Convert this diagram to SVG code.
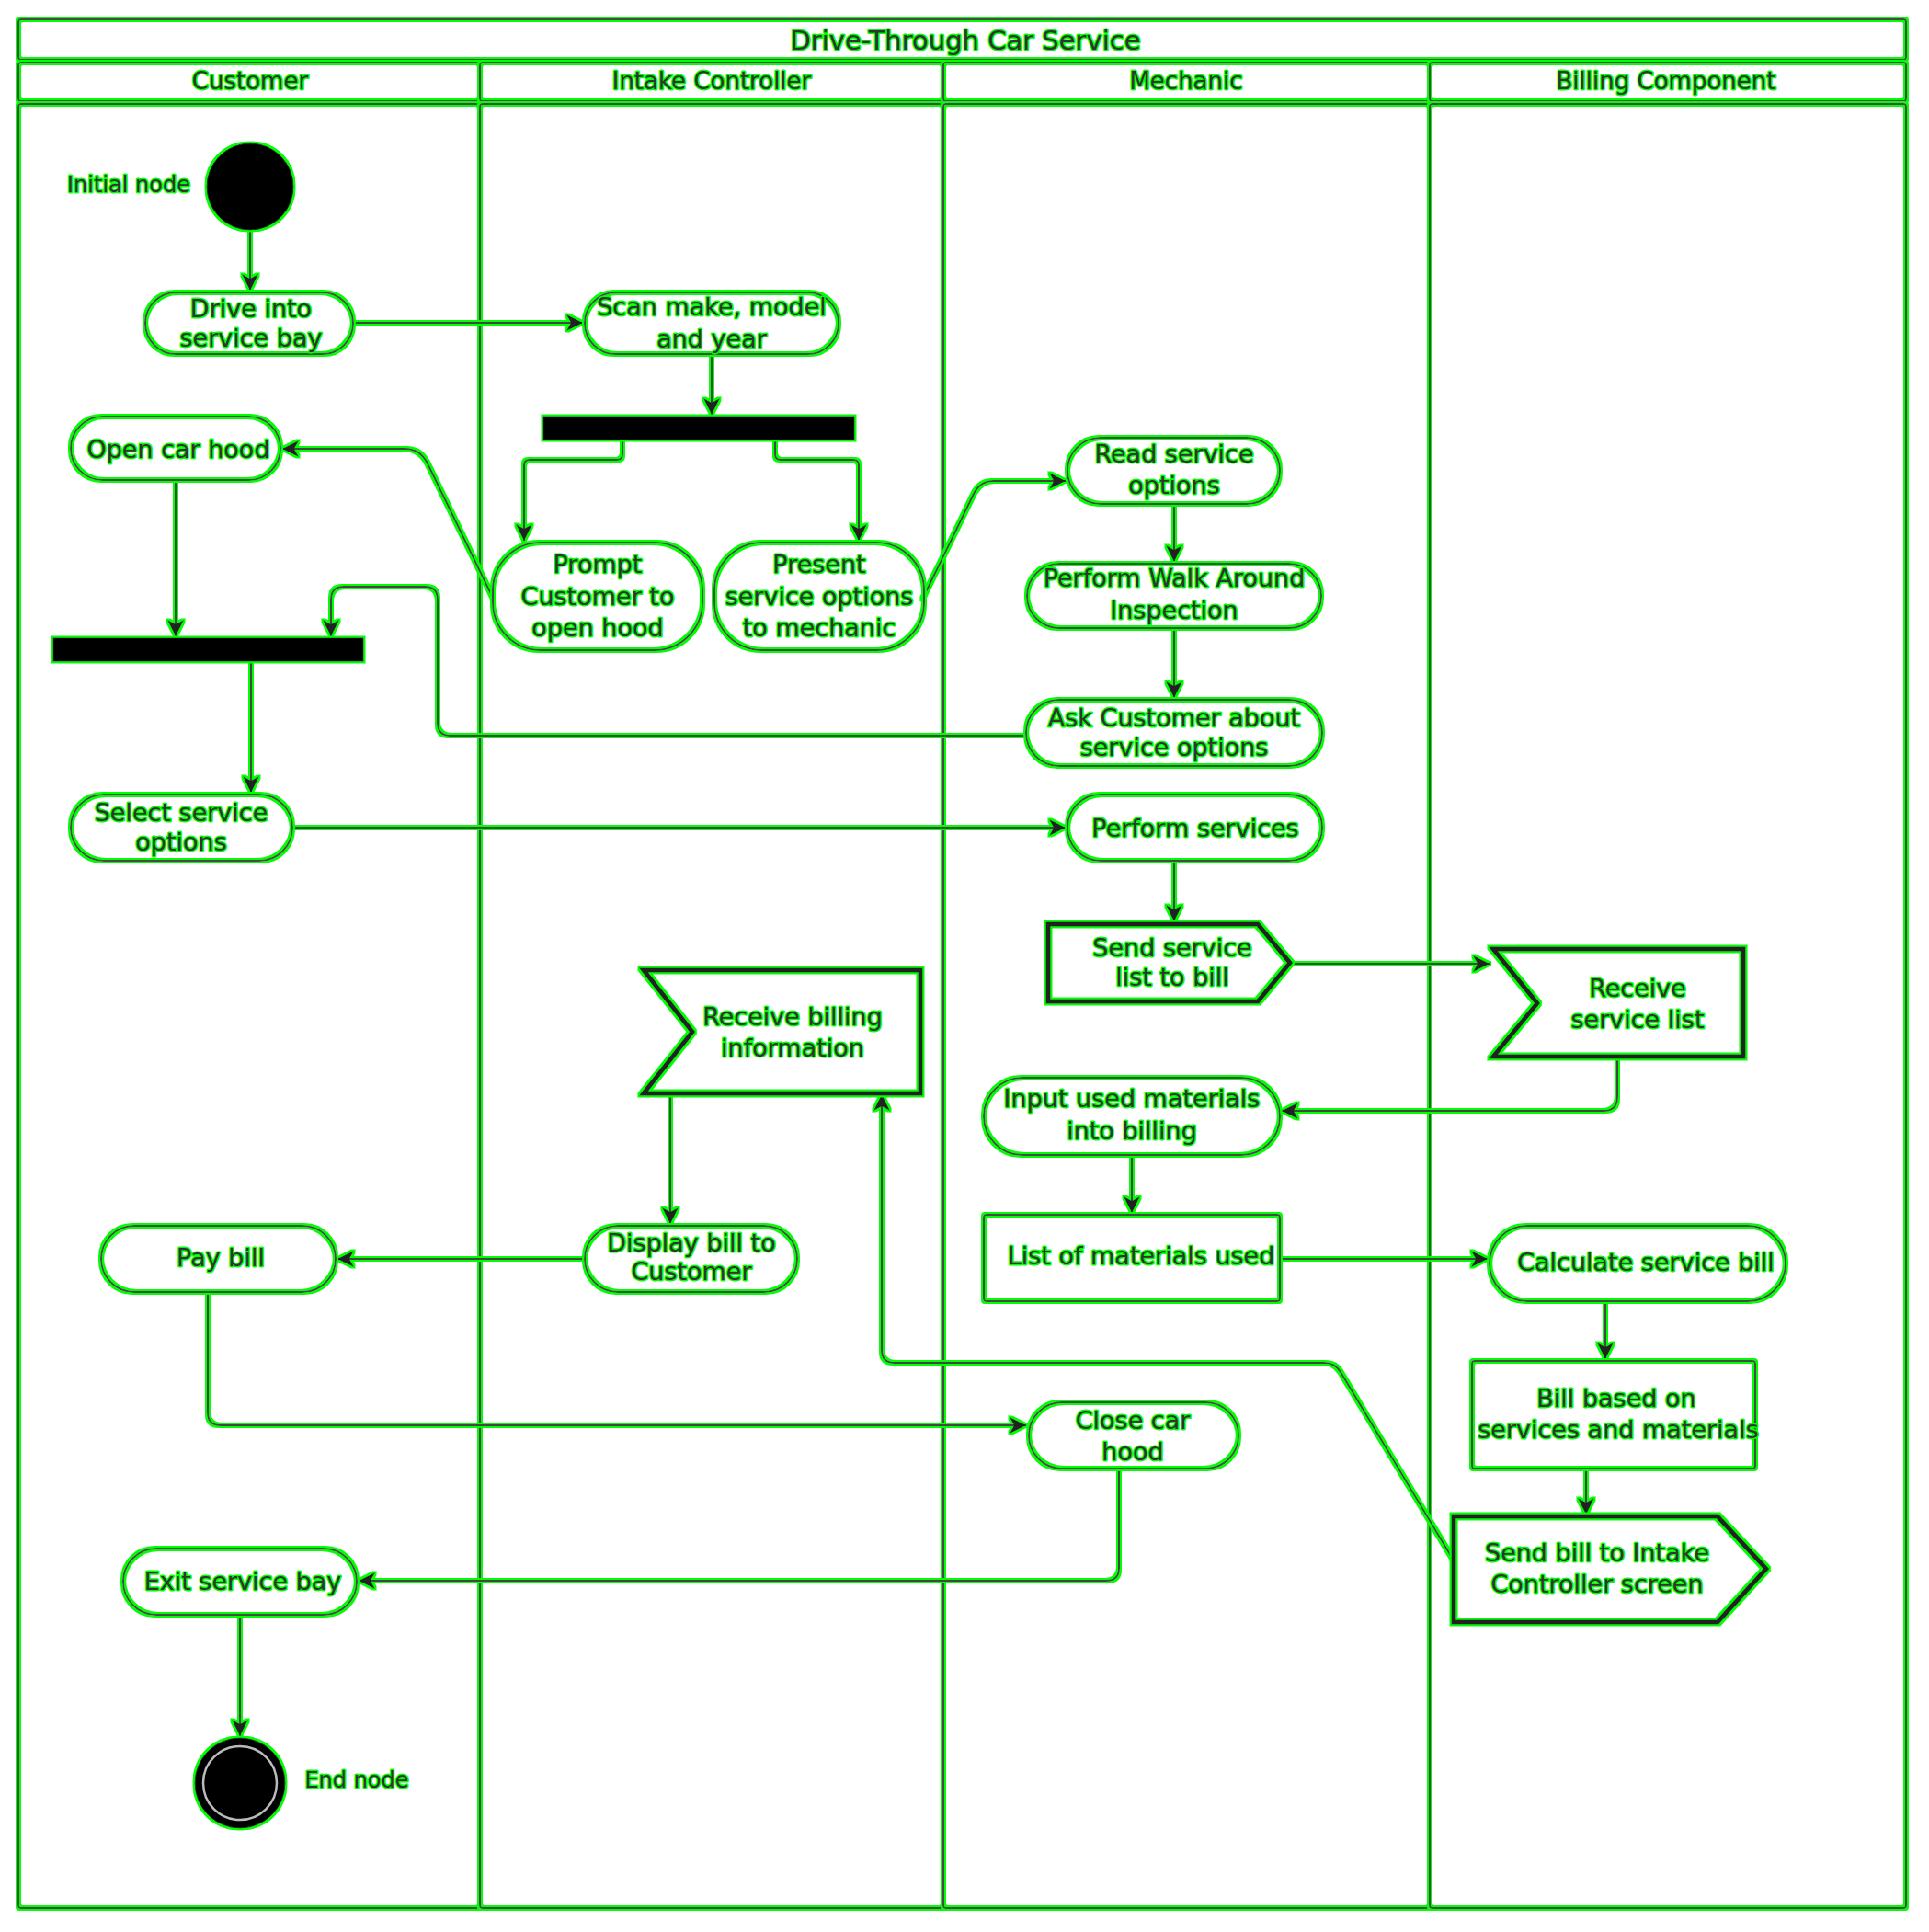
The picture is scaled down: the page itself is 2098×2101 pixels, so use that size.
<svg xmlns="http://www.w3.org/2000/svg" width="2098" height="2101" viewBox="0 0 2098 2101">
<style>
.fr{fill:none;stroke:#4a4a4a;stroke-width:2;filter:url(#glow)}
.nd{fill:none;stroke:#4a4a4a;stroke-width:2;filter:url(#glow)}
.sg{fill:none;stroke:#222;stroke-width:5;stroke-linejoin:miter;filter:url(#glow)}
.bar{fill:#000;stroke:#222;stroke-width:1;filter:url(#glow)}
.ci{fill:#000;stroke:#222;stroke-width:1;filter:url(#glow)}
.ln{fill:none;stroke:#444;stroke-width:2;marker-end:url(#ah);filter:url(#glow)}
text{font-family:"DejaVu Sans","Liberation Sans",sans-serif;fill:#333;text-anchor:middle;stroke:#00ff00;stroke-width:3;stroke-linejoin:round;paint-order:stroke}
.t{font-size:27px}
.h{font-size:26px}
.ti{font-size:29px}
.lb{font-size:24px}
</style>
<defs>
<filter id="glow" filterUnits="userSpaceOnUse" x="0" y="0" width="2098" height="2101">
<feMorphology in="SourceAlpha" operator="dilate" radius="2" result="d"/>
<feFlood flood-color="#00ff00"/>
<feComposite in2="d" operator="in" result="g"/>
<feMerge><feMergeNode in="g"/><feMergeNode in="SourceGraphic"/></feMerge>
</filter>
<marker id="ah" markerUnits="userSpaceOnUse" markerWidth="22" markerHeight="20" refX="19" refY="10" orient="auto">
<path d="M1,1 L19,10 L1,19 L6,10 Z" fill="#222"/>
</marker>
</defs>
<rect x="0" y="0" width="2098" height="2101" fill="#fff"/>
<g id="frame">
<rect class="fr" x="20" y="21" width="2053" height="44" rx="3"/>
<rect class="fr" x="20" y="68" width="502" height="42" rx="3"/>
<rect class="fr" x="522" y="68" width="504" height="42" rx="3"/>
<rect class="fr" x="1026" y="68" width="529" height="42" rx="3"/>
<rect class="fr" x="1555" y="68" width="518" height="42" rx="3"/>
<rect class="fr" x="20" y="113" width="502" height="1962" rx="3"/>
<rect class="fr" x="522" y="113" width="504" height="1962" rx="3"/>
<rect class="fr" x="1026" y="113" width="529" height="1962" rx="3"/>
<rect class="fr" x="1555" y="113" width="518" height="1962" rx="3"/>
<text class="ti" x="1050" y="54">Drive-Through Car Service</text>
<text class="h" x="272" y="97">Customer</text>
<text class="h" x="774" y="97">Intake Controller</text>
<text class="h" x="1290" y="97">Mechanic</text>
<text class="h" x="1812" y="97">Billing Component</text>
</g>
<g id="connectors">
<path class="ln" d="M272,250 L272,316"/>
<path class="ln" d="M384,351 L634,351"/>
<path class="ln" d="M774,385 L774,451"/>
<path class="ln" d="M677,478 L677,494 Q677,500 671,500 L576,500 Q570,500 570,506 L570,588"/>
<path class="ln" d="M843,478 L843,494 Q843,500 849,500 L928,500 Q934,500 934,506 L934,588"/>
<path class="ln" d="M536,650 L466,506 Q458,488 440,488 L307,488"/>
<path class="ln" d="M191,522 L191,692"/>
<path class="ln" d="M1116,800 L490,800 Q476,800 476,786 L476,652 Q476,638 462,638 L374,638 Q360,638 360,652 L360,692"/>
<path class="ln" d="M273,719 L273,862"/>
<path class="ln" d="M1003,652 L1060,535 Q1067,523 1080,523 L1159,523"/>
<path class="ln" d="M1277,548 L1277,611"/>
<path class="ln" d="M1277,683 L1277,759"/>
<path class="ln" d="M318,900 L1159,900"/>
<path class="ln" d="M1277,936 L1277,1002"/>
<path class="ln" d="M1403,1048 L1620,1048"/>
<path class="ln" d="M1759,1149 L1759,1193 Q1759,1208 1744,1208 L1394,1208"/>
<path class="ln" d="M1231,1256 L1231,1319"/>
<path class="ln" d="M1392,1369 L1618,1369"/>
<path class="ln" d="M1746,1415 L1746,1478"/>
<path class="ln" d="M1725,1597 L1725,1647"/>
<path class="ln" d="M1581,1697 L1458,1492 Q1452,1482 1440,1482 L973,1482 Q959,1482 959,1468 L959,1190"/>
<path class="ln" d="M729,1189 L729,1331"/>
<path class="ln" d="M636,1369 L367,1369"/>
<path class="ln" d="M226,1405 L226,1536 Q226,1550 240,1550 L1116,1550"/>
<path class="ln" d="M1217,1597 L1217,1705 Q1217,1719 1203,1719 L390,1719"/>
<path class="ln" d="M261,1756 L261,1888"/>
</g>
<g id="initial">
<circle class="ci" cx="272" cy="203" r="47"/>
<text class="lb" x="140" y="209">Initial node</text>
</g>
<g id="drive">
<rect class="nd" x="158" y="318" width="226" height="67" rx="33.5"/>
<text class="t" x="273" y="345">Drive into</text>
<text class="t" x="273" y="377">service bay</text>
</g>
<g id="scan">
<rect class="nd" x="636" y="318" width="276" height="67" rx="33.5"/>
<text class="t" x="774" y="343">Scan make, model</text>
<text class="t" x="774" y="378">and year</text>
</g>
<g id="fork1"><rect class="bar" x="591" y="453" width="338" height="25"/></g>
<g id="prompt">
<rect class="nd" x="536" y="590" width="228" height="117" rx="52"/>
<text class="t" x="650" y="623">Prompt</text>
<text class="t" x="650" y="658">Customer to</text>
<text class="t" x="650" y="692">open hood</text>
</g>
<g id="present">
<rect class="nd" x="777" y="590" width="228" height="117" rx="52"/>
<text class="t" x="891" y="623">Present</text>
<text class="t" x="891" y="658">service options</text>
<text class="t" x="891" y="692">to mechanic</text>
</g>
<g id="openhood">
<rect class="nd" x="77" y="453" width="228" height="69" rx="34.5"/>
<text class="t" x="194" y="498">Open car hood</text>
</g>
<g id="join1"><rect class="bar" x="58" y="694" width="337" height="25"/></g>
<g id="select">
<rect class="nd" x="77" y="864" width="241" height="72" rx="36"/>
<text class="t" x="197" y="893">Select service</text>
<text class="t" x="197" y="925">options</text>
</g>
<g id="read">
<rect class="nd" x="1161" y="476" width="231" height="72" rx="36"/>
<text class="t" x="1277" y="503">Read service</text>
<text class="t" x="1277" y="537">options</text>
</g>
<g id="walk">
<rect class="nd" x="1117" y="613" width="320" height="70" rx="35"/>
<text class="t" x="1277" y="638">Perform Walk Around</text>
<text class="t" x="1277" y="673">Inspection</text>
</g>
<g id="ask">
<rect class="nd" x="1116" y="761" width="322" height="72" rx="36"/>
<text class="t" x="1277" y="790">Ask Customer about</text>
<text class="t" x="1277" y="822">service options</text>
</g>
<g id="perform">
<rect class="nd" x="1161" y="864" width="277" height="72" rx="36"/>
<text class="t" x="1300" y="910">Perform services</text>
</g>
<g id="sendlist">
<polygon class="sg" points="1140,1005 1368,1005 1403,1047 1368,1089 1140,1089"/>
<text class="t" x="1275" y="1040">Send service</text>
<text class="t" x="1275" y="1072">list to bill</text>
</g>
<g id="recvlist">
<polygon class="sg" points="1624,1032 1896,1032 1896,1149 1624,1149 1672,1091"/>
<text class="t" x="1781" y="1084">Receive</text>
<text class="t" x="1781" y="1118">service list</text>
</g>
<g id="input">
<rect class="nd" x="1070" y="1172" width="322" height="84" rx="42"/>
<text class="t" x="1231" y="1204">Input used materials</text>
<text class="t" x="1231" y="1239">into billing</text>
</g>
<g id="materials">
<rect class="nd" x="1070" y="1321" width="322" height="94" rx="3"/>
<text class="t" x="1241" y="1375">List of materials used</text>
</g>
<g id="calc">
<rect class="nd" x="1620" y="1333" width="322" height="82" rx="41"/>
<text class="t" x="1790" y="1382">Calculate service bill</text>
</g>
<g id="billbased">
<rect class="nd" x="1601" y="1480" width="308" height="117" rx="3"/>
<text class="t" x="1758" y="1530">Bill based on</text>
<text class="t" x="1760" y="1564">services and materials</text>
</g>
<g id="sendbill">
<polygon class="sg" points="1581,1649 1868,1649 1921,1706 1868,1764 1581,1764"/>
<text class="t" x="1737" y="1698">Send bill to Intake</text>
<text class="t" x="1737" y="1732">Controller screen</text>
</g>
<g id="recvbill">
<polygon class="sg" points="700,1055 1001,1055 1001,1189 700,1189 753,1122"/>
<text class="t" x="862" y="1115">Receive billing</text>
<text class="t" x="862" y="1149">information</text>
</g>
<g id="display">
<rect class="nd" x="636" y="1333" width="231" height="72" rx="36"/>
<text class="t" x="752" y="1361">Display bill to</text>
<text class="t" x="752" y="1392">Customer</text>
</g>
<g id="pay">
<rect class="nd" x="110" y="1333" width="255" height="72" rx="36"/>
<text class="t" x="240" y="1377">Pay bill</text>
</g>
<g id="close">
<rect class="nd" x="1119" y="1525" width="228" height="72" rx="36"/>
<text class="t" x="1232" y="1554">Close car</text>
<text class="t" x="1232" y="1588">hood</text>
</g>
<g id="exit">
<rect class="nd" x="134" y="1684" width="254" height="72" rx="36"/>
<text class="t" x="264" y="1729">Exit service bay</text>
</g>
<g id="final">
<circle class="ci" cx="261" cy="1939" r="49"/>
<circle cx="261" cy="1939" r="40" fill="none" stroke="#bbb" stroke-width="2.5"/>
<text class="lb" x="388" y="1944">End node</text>
</g>
</svg>
